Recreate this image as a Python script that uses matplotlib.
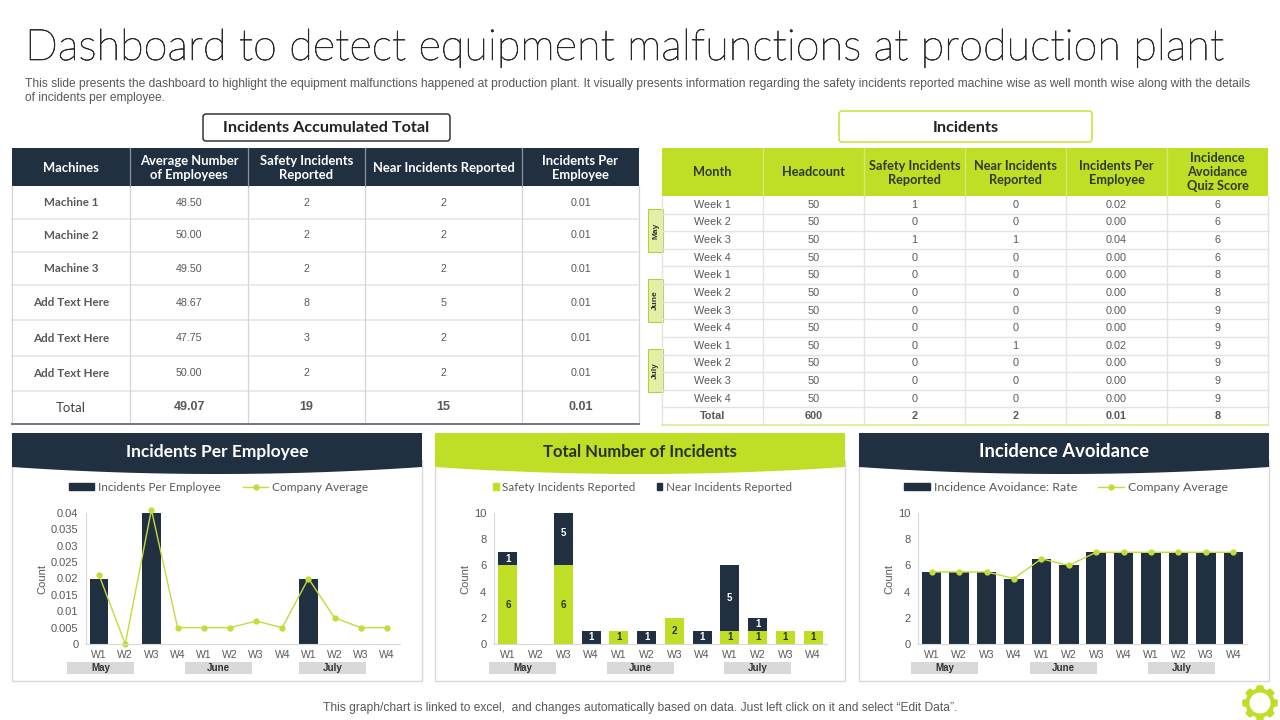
#!/usr/bin/env python3
# -*- coding: utf-8 -*-
"""
Dashboard to detect equipment malfunctions at production plant.
Everything outside the three charts is drawn on one overlay axes in pixels.
"""
import numpy as np
import matplotlib
matplotlib.use("Agg")
import matplotlib.pyplot as plt
import matplotlib.patheffects as pe
from matplotlib.lines import Line2D
from matplotlib.patches import FancyBboxPatch, Polygon, Rectangle

NAVY = "#203040"
LIME = "#bfdf26"
GREY_TXT = "#595959"
HEAD_FONT = "Lato"
BODY_FONT = "Liberation Sans"

TITLE = "Dashboard to detect equipment malfunctions at production plant"
SUBTITLE_1 = ("This slide presents the dashboard to highlight the equipment malfunctions happened at production plant. "
              "It visually presents information regarding the safety incidents reported machine wise as well month wise along with the details")
SUBTITLE_2 = "of incidents per employee."
FOOTER = "This graph/chart is linked to excel,  and changes automatically based on data. Just left click on it and select \u201cEdit Data\u201d."

# left table
left_header = ["Machines", "Average Number\nof Employees", "Safety Incidents\nReported",
               "Near Incidents Reported", "Incidents Per\nEmployee"]
machines = ["Machine 1", "Machine 2", "Machine 3", "Add Text Here", "Add Text Here", "Add Text Here", "Total"]
avg_employees = ["48.50", "50.00", "49.50", "48.67", "47.75", "50.00", "49.07"]
safety_reported = ["2", "2", "2", "8", "3", "2", "19"]
near_reported = ["2", "2", "2", "5", "2", "2", "15"]
per_employee = ["0.01", "0.01", "0.01", "0.01", "0.01", "0.01", "0.01"]

# right table
right_header = ["Month", "Headcount", "Safety Incidents\nReported", "Near Incidents\nReported",
                "Incidents Per\nEmployee", "Incidence\nAvoidance\nQuiz Score"]
weeks = ["Week 1", "Week 2", "Week 3", "Week 4"] * 3 + ["Total"]
headcount = ["50"] * 12 + ["600"]
week_safety = ["1", "0", "1", "0", "0", "0", "0", "0", "0", "0", "0", "0", "2"]
week_near = ["0", "0", "1", "0", "0", "0", "0", "0", "1", "0", "0", "0", "2"]
week_per_emp = ["0.02", "0.00", "0.04", "0.00", "0.00", "0.00", "0.00", "0.00", "0.02", "0.00", "0.00", "0.00", "0.01"]
quiz_score = ["6", "6", "6", "6", "8", "8", "9", "9", "9", "9", "9", "9", "8"]

# charts
x_labels = ["W1", "W2", "W3", "W4"] * 3
months = ["May", "June", "July"]
incidents_per_emp = [0.02, 0, 0.04, 0, 0, 0, 0, 0, 0.02, 0, 0, 0]
company_avg_1 = [0.021, 0, 0.041, 0.005, 0.005, 0.005, 0.007, 0.005, 0.02, 0.008, 0.005, 0.005]
safety_counts = [6, 0, 6, 0, 1, 0, 2, 0, 1, 1, 1, 1]
near_counts = [1, 0, 5, 1, 0, 1, 0, 1, 5, 1, 0, 0]
avoidance_rate = [5.5, 5.5, 5.5, 5, 6.5, 6, 7, 7, 7, 7, 7, 7]
company_avg_3 = [5.5, 5.5, 5.5, 5, 6.5, 6, 7, 7, 7, 7, 7, 7]

fig = plt.figure(figsize=(12.8, 7.2), dpi=100)
over = fig.add_axes([0, 0, 1, 1], zorder=5)
over.set_xlim(0, 1280)
over.set_ylim(720, 0)
over.axis("off")
over.patch.set_alpha(0)


def box(x0, y0, x1, y1, **kw):
    over.add_patch(Rectangle((x0, y0), x1 - x0, y1 - y0, **kw))


def draw_left_table():
    cols = [12, 130, 248, 365, 522, 639]
    rows = [186, 219, 252, 285, 320, 356, 391, 424]
    box(12, 148, 639, 186, color=NAVY, lw=0)
    for i, txt in enumerate(left_header):
        over.text((cols[i] + cols[i + 1]) / 2, 168, txt, color="white", fontsize=9.4, family=HEAD_FONT,
                  weight="bold", ha="center", va="center", linespacing=1.2)
    for y in rows[1:-1]:
        over.plot([12, 639], [y, y], color="#e6e6e6", lw=1.2)
    for x in cols:
        over.plot([x, x], [186, 424], color="#d4d4d4", lw=0.9)
    over.plot([12, 639], [424, 424], color="#6f7880", lw=1.4)
    for x in cols[1:-1]:
        over.plot([x, x], [148, 186], color="#8a96a0", lw=0.9)
    for r in range(7):
        y = (rows[r] + rows[r + 1]) / 2
        last = r == 6
        over.text(71, y, machines[r], color="#444444" if last else GREY_TXT, fontsize=9.5 if last else 8.4,
                  family=HEAD_FONT, weight="normal" if last else "bold", ha="center", va="center")
        vals = [avg_employees[r], safety_reported[r], near_reported[r], per_employee[r]]
        for i, v in enumerate(vals):
            over.text((cols[i + 1] + cols[i + 2]) / 2, y, v, color=GREY_TXT, fontsize=9 if last else 7.7,
                      family=BODY_FONT, weight="bold" if last else "normal", ha="center", va="center")


def draw_right_table():
    cols = [662, 763, 864, 965, 1066, 1167, 1268]
    rows = np.linspace(196, 425, 14)
    box(662, 148, 1268, 196, color=LIME, lw=0)
    for i, txt in enumerate(right_header):
        over.text((cols[i] + cols[i + 1]) / 2, 172.5, txt, color="#2c3a20", fontsize=9.2, family=HEAD_FONT,
                  weight="bold", ha="center", va="center", linespacing=1.2)
    for y in rows[1:-1]:
        over.plot([662, 1268], [y, y], color="#e4e4e4", lw=1.0)
    for x in cols:
        over.plot([x, x], [196, 425], color="#e4e4e4", lw=1.0)
    over.plot([662, 1268], [425, 425], color="#dcea9a", lw=1.2)
    for x in cols[1:-1]:
        over.plot([x, x], [148, 196], color="#d6e87a", lw=1.0)
    for r in range(13):
        y = (rows[r] + rows[r + 1]) / 2
        last = r == 12
        vals = [weeks[r], headcount[r], week_safety[r], week_near[r], week_per_emp[r], quiz_score[r]]
        for i, v in enumerate(vals):
            over.text((cols[i] + cols[i + 1]) / 2, y, v, color=GREY_TXT, fontsize=7.8, family=BODY_FONT,
                      weight="bold" if last else "normal", ha="center", va="center")
    for m, y0 in zip(months, [209, 279, 349]):
        box(648, y0, 663, y0 + 43, facecolor="#e4efa6", edgecolor="#b4cf3c", lw=0.8)
        over.text(655.5, y0 + 21.5, m, rotation=90, color="#333333", fontsize=6, family=BODY_FONT,
                  weight="bold", ha="center", va="center")


def draw_title_box(x0, y0, x1, y1, edge, txt):
    over.add_patch(FancyBboxPatch((x0 + 2, y0 + 2), x1 - x0 - 4, y1 - y0 - 4, boxstyle="round,pad=2,rounding_size=3",
                                  facecolor="white", edgecolor=edge, lw=1.0))
    over.text((x0 + x1) / 2, 131.5, txt, color="#222222", fontsize=11.7, family=HEAD_FONT, weight="bold",
              ha="center", va="baseline")


def draw_panel(x0, x1, color, txt, txt_color, size):
    box(x0, 460, x1, 681, facecolor="white", edgecolor="#d9d9d9", lw=1.0)
    xs = np.linspace(x0, x1, 60)
    c = (x0 + x1) / 2
    curve = 467 + 7 * (1 - ((xs - c) / (x1 - c)) ** 2)
    pts = [(x0, 433), (x1, 433)] + list(zip(xs[::-1], curve[::-1]))
    over.add_patch(Polygon(pts, closed=True, color=color, lw=0))
    over.text(c, 457, txt, color=txt_color, fontsize=size, family=HEAD_FONT, weight="bold",
              ha="center", va="baseline")


def draw_month_bands(starts):
    for m, x0 in zip(months, starts):
        box(x0, 662, x0 + 67, 674, color="#d9d9d9", lw=0)
        over.text(x0 + 33.5, 668, m, color="#333333", fontsize=7, family=BODY_FONT, weight="bold",
                  ha="center", va="center")


def chart_axes(left, right, ymax, ticks, ticklabels):
    top, bottom = 513, 644
    ax = fig.add_axes([left / 1280, 1 - bottom / 720, (right - left) / 1280, (bottom - top) / 720], zorder=6)
    ax.patch.set_alpha(0)
    ax.set_xlim(-0.5, 11.5)
    ax.set_ylim(0, ymax)
    ax.set_xticks(range(12))
    ax.set_xticklabels(x_labels, fontsize=7.5, color=GREY_TXT, family=BODY_FONT)
    ax.set_yticks(ticks)
    ax.set_yticklabels(ticklabels, fontsize=8, color=GREY_TXT, family=BODY_FONT)
    ax.tick_params(axis="y", length=0, pad=5.5)
    ax.tick_params(axis="x", length=0, pad=4)
    for s in ["top", "right"]:
        ax.spines[s].set_visible(False)
    for s in ["left", "bottom"]:
        ax.spines[s].set_color("#d9d9d9")
        ax.spines[s].set_linewidth(0.8)
    ax.set_ylabel("Count", fontsize=8, color=GREY_TXT, family=BODY_FONT, labelpad=2.5)
    return ax


def legend_for(ax, handles, labels, center_x, handlelength, handleheight, columnspacing, size=8.6):
    px = ax.get_position()
    anchor = ((center_x / 1280 - px.x0) / px.width, (1 - 487 / 720 - px.y0) / px.height)
    ax.legend(handles, labels, loc="center", bbox_to_anchor=anchor, ncol=2, frameon=False,
              prop={"family": HEAD_FONT, "size": size}, labelcolor=GREY_TXT, handlelength=handlelength,
              handleheight=handleheight, handletextpad=0.3, columnspacing=columnspacing, borderpad=0,
              borderaxespad=0)


def draw_charts():
    xpos = np.arange(12)

    # incidents per employee
    ax = chart_axes(86, 400, 0.04, np.arange(0, 0.041, 0.005),
                    ["0", "0.005", "0.01", "0.015", "0.02", "0.025", "0.03", "0.035", "0.04"])
    ax.bar(xpos, incidents_per_emp, width=0.7, color=NAVY)
    ax.plot(xpos, company_avg_1, color="#c2dc3c", lw=1.0, marker="o", ms=3.5, clip_on=False)
    legend_for(ax, [Rectangle((0, 0), 1, 1, color=NAVY),
                    Line2D([], [], color="#c2dc3c", lw=1.0, marker="o", ms=3.5)],
               ["Incidents Per Employee", "Company Average"], 218.5, 2.1, 0.5, 1.9)

    # total number of incidents
    ax = chart_axes(494, 827, 10, range(0, 11, 2), ["0", "2", "4", "6", "8", "10"])
    ax.bar(xpos, safety_counts, width=0.69, color=LIME)
    ax.bar(xpos, near_counts, width=0.69, bottom=safety_counts, color=NAVY)
    for i in xpos:
        if safety_counts[i]:
            ax.text(i, safety_counts[i] / 2, str(safety_counts[i]), color="#26331a", fontsize=7, family=BODY_FONT,
                    weight="bold", ha="center", va="center")
        if near_counts[i]:
            ax.text(i, safety_counts[i] + near_counts[i] / 2, str(near_counts[i]), color="white", fontsize=7,
                    family=BODY_FONT, weight="bold", ha="center", va="center")
    legend_for(ax, [Rectangle((0, 0), 1, 1, color=LIME), Rectangle((0, 0), 1, 1, color=NAVY)],
               ["Safety Incidents Reported", "Near Incidents Reported"], 642.5, 0.5, 0.5, 1.8, size=8.4)

    # incidence avoidance
    ax = chart_axes(918, 1247, 10, range(0, 11, 2), ["0", "2", "4", "6", "8", "10"])
    ax.bar(xpos, avoidance_rate, width=0.71, color=NAVY)
    ax.plot(xpos, company_avg_3, color="#c2dc3c", lw=1.0, marker="o", ms=3.5)
    legend_for(ax, [Rectangle((0, 0), 1, 1, color=NAVY),
                    Line2D([], [], color="#c2dc3c", lw=1.0, marker="o", ms=3.5)],
               ["Incidence Avoidance: Rate", "Company Average"], 1066, 2.1, 0.5, 1.7, size=8.9)


def draw_gear(cx, cy):
    ang = np.linspace(0, 2 * np.pi, 600)
    r = 16.2 + 1.6 * np.clip(3 * np.cos(8 * ang) + 0.8, -1, 1)
    outer = np.column_stack([cx + r * np.cos(ang), cy + r * np.sin(ang)])
    over.add_patch(Polygon(outer, closed=True, color=LIME, lw=0))
    inner = np.column_stack([cx + 10.5 * np.cos(ang), cy + 10.5 * np.sin(ang)])
    over.add_patch(Polygon(inner, closed=True, color="white", lw=0))


def main():
    # light face thickened a little, the original strokes are about 2px
    title = over.text(25, 60, TITLE, fontsize=31.2, color="#2a2a2a", family=HEAD_FONT, weight="light",
                      ha="left", va="baseline")
    title.set_path_effects([pe.withStroke(linewidth=0.5, foreground="#2a2a2a")])
    over.text(25, 83.5, SUBTITLE_1, fontsize=8.66, color=GREY_TXT, family=BODY_FONT, ha="left", va="center")
    over.text(25, 97.5, SUBTITLE_2, fontsize=8.66, color=GREY_TXT, family=BODY_FONT, ha="left", va="center")
    draw_title_box(203, 114, 450, 141, "#222222", "Incidents Accumulated Total")
    draw_title_box(839, 111, 1092, 142, LIME, "Incidents")
    draw_left_table()
    draw_right_table()
    draw_panel(12, 422, NAVY, "Incidents Per Employee", "white", 12.5)
    draw_panel(435, 845, LIME, "Total Number of Incidents", "#26331a", 12)
    draw_panel(859, 1269, NAVY, "Incidence Avoidance", "white", 13.2)
    draw_month_bands([67, 185, 299])
    draw_month_bands([489, 607, 724])
    draw_month_bands([911, 1030, 1148])
    draw_charts()
    over.text(640.5, 708, FOOTER, fontsize=8.63, color=GREY_TXT, family=BODY_FONT, ha="center", va="center")
    draw_gear(1260, 703)
    fig.savefig("out.png", dpi=100)


if __name__ == "__main__":
    main()
